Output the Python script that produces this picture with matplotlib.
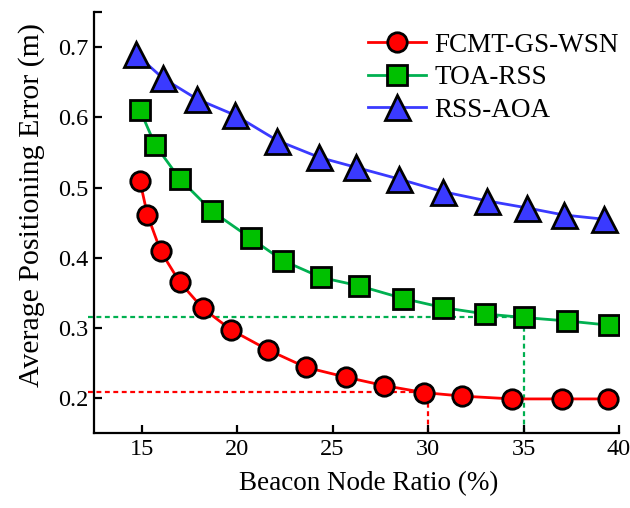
import numpy as np
import matplotlib
matplotlib.use('Agg')
import matplotlib.pyplot as plt

plt.rcParams['font.family'] = ['Liberation Serif', 'DejaVu Serif']
plt.rcParams['font.size'] = 19.5

# FCMT-GS-WSN
x_fcmt = [14.9, 15.3, 16.0, 17.0, 18.2, 19.7, 21.6, 23.6, 25.7, 27.7, 29.8, 31.8, 34.4, 37.0, 39.4]
y_fcmt = [0.510, 0.461, 0.409, 0.365, 0.328, 0.297, 0.269, 0.244, 0.230, 0.218, 0.208, 0.203, 0.199, 0.199, 0.199]

# TOA-RSS
x_toa = [14.9, 15.7, 17.0, 18.7, 20.7, 22.4, 24.4, 26.4, 28.7, 30.8, 33.0, 35.0, 37.3, 39.5]
y_toa = [0.611, 0.561, 0.512, 0.466, 0.428, 0.396, 0.372, 0.360, 0.342, 0.329, 0.320, 0.315, 0.310, 0.304]

# RSS-AOA
x_aoa = [14.7, 16.1, 17.9, 19.9, 22.1, 24.3, 26.2, 28.5, 30.8, 33.1, 35.2, 37.1, 39.2]
y_aoa = [0.690, 0.656, 0.626, 0.603, 0.567, 0.543, 0.529, 0.512, 0.494, 0.481, 0.471, 0.461, 0.455]

# guide lines (x, y)
guide_red = (30, 0.209)
guide_green = (35, 0.316)

xlim = (12.5, 40)
ylim = (0.15, 0.75)

fig = plt.figure(figsize=(6.3, 5.08), dpi=100)
ax = fig.add_axes([0.1492, 0.147, 0.8333, 0.8293])

# dashed guides
for (gx, gy), c in [(guide_red, '#ff0000'), (guide_green, '#00b050')]:
    ax.plot([xlim[0] - 0.3, gx], [gy, gy], ls=(0, (2.2, 1.6)), color=c, lw=1.6, clip_on=False, zorder=1)
    ax.plot([gx, gx], [ylim[0], gy], ls=(0, (2.2, 1.6)), color=c, lw=1.6, zorder=1)

ax.plot(x_fcmt, y_fcmt, '-o', color='#ff0000', lw=2.0, ms=14, mfc='#ff0000', mec='black', mew=2.0,
        label='FCMT-GS-WSN', zorder=3)
ax.plot(x_toa, y_toa, '-s', color='#00b050', lw=2.0, ms=14, mfc='#00c000', mec='black', mew=2.0,
        label='TOA-RSS', zorder=3)
ax.plot(x_aoa, y_aoa, '-^', color='#3a3aff', lw=2.0, ms=18, mfc='#3a3aff', mec='black', mew=2.0,
        label='RSS-AOA', zorder=3)

ax.set_xlim(*xlim)
ax.set_ylim(*ylim)
ax.set_xticks([15, 20, 25, 30, 35, 40])
ax.set_yticks([0.2, 0.3, 0.4, 0.5, 0.6, 0.7, 0.75])
ax.set_yticklabels(['0.2', '0.3', '0.4', '0.5', '0.6', '0.7', ''])

for s in ['top', 'right']:
    ax.spines[s].set_visible(False)
for s in ['left', 'bottom']:
    ax.spines[s].set_linewidth(1.6)
ax.tick_params(direction='in', length=6, width=1.6, pad=4, labelsize=17.5)

ax.set_xlabel('Beacon Node Ratio (%)')
ax.set_ylabel('Average Positioning Error (m)', fontsize=21.5)
ax.xaxis.set_label_coords(0.524, -0.09)
ax.yaxis.set_label_coords(-0.093, 0.541)

ax.legend(loc='upper right', bbox_to_anchor=(1.03, 0.99), frameon=False,
          handlelength=2.15, handletextpad=0.3, labelspacing=0.28, borderaxespad=0.2)

fig.savefig('out.png', dpi=100)
